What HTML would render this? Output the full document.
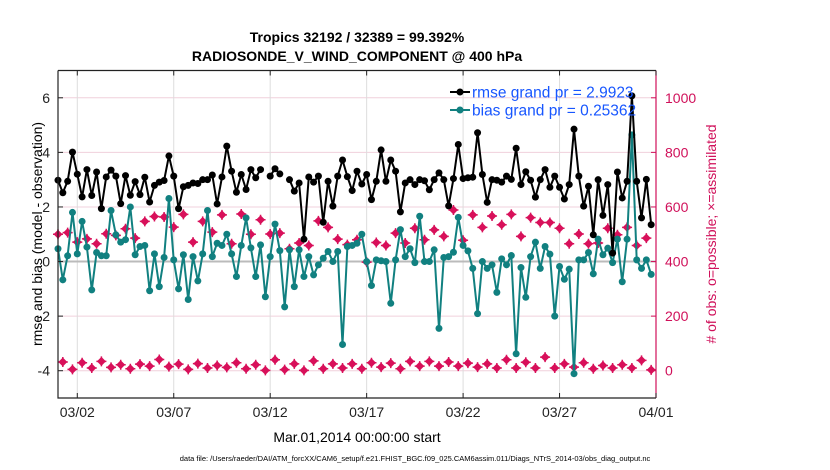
<!DOCTYPE html>
<html><head><meta charset="utf-8"><style>
body{margin:0;background:#fff;}
svg{display:block;font-family:"Liberation Sans",sans-serif;}
</style></head><body>
<svg id="chart" width="830" height="470" viewBox="0 0 830 470">
<text x="357" y="42" text-anchor="middle" font-size="14" font-weight="bold">Tropics 32192 / 32389 = 99.392%</text>
<text x="357" y="61" text-anchor="middle" font-size="14" font-weight="bold">RADIOSONDE_V_WIND_COMPONENT @ 400 hPa</text>
<g id="grid"></g>
<g id="marks"></g>
<g id="axes"></g>
<text transform="translate(42,234) rotate(-90)" text-anchor="middle" font-size="14">rmse and bias (model - observation)</text>
<text transform="translate(716,234) rotate(-90)" text-anchor="middle" font-size="14" fill="#d0105a"># of obs: o=possible; ×=assimilated</text>
<text x="357" y="442" text-anchor="middle" font-size="14">Mar.01,2014 00:00:00 start</text>
<text x="415" y="461" text-anchor="middle" font-size="7.5">data file: /Users/raeder/DAI/ATM_forcXX/CAM6_setup/f.e21.FHIST_BGC.f09_025.CAM6assim.011/Diags_NTrS_2014-03/obs_diag_output.nc</text>
<g id="legend">
<line x1="450" y1="92" x2="470" y2="92" stroke="#000" stroke-width="2"/>
<circle cx="460" cy="92" r="3.5" fill="#000"/>
<text x="472" y="97.5" font-size="15.5" fill="#1756ff">rmse grand pr = 2.9923</text>
<line x1="450" y1="110" x2="470" y2="110" stroke="#118080" stroke-width="2"/>
<circle cx="460" cy="110" r="3.5" fill="#118080"/>
<text x="472" y="115.5" font-size="15.5" fill="#1756ff">bias grand pr = 0.25362</text>
</g>
</svg>
<script>
const rmse = [2.98,2.52,2.94,4.01,3.2,2.37,3.37,2.42,3.28,1.94,3.1,3.35,3.13,2.12,3.15,2.43,2.93,2.45,3.09,2.18,2.79,2.91,2.97,3.87,3.13,1.94,2.74,2.79,2.88,2.86,3.0,3.0,3.17,2.11,3.1,4.23,3.31,2.54,3.19,2.64,
3.37,3.07,3.37,null,3.13,3.4,3.21,null,3.0,2.58,2.88,0.82,3.1,2.91,3.13,1.44,2.94,2.03,3.13,3.72,3.11,2.6,3.31,2.84,3.19,2.27,2.94,4.09,2.94,3.72,3.31,1.82,2.88,3.0,2.82,3.0,2.96,2.63,3.0,3.25,3.0,2.04,
3.04,4.29,3.04,3.07,3.09,4.72,3.19,2.17,3.0,2.98,2.91,3.13,3.01,4.15,2.82,3.29,2.98,2.36,3.0,3.37,2.72,3.13,2.72,2.29,2.82,4.85,3.13,2.03,2.76,0.98,3.0,1.69,2.82,0.31,3.28,2.33,2.94,6.07,2.94,1.6,3.01,1.35];
const bias = [0.47,-0.67,0.21,1.8,0.28,1.47,0.53,-1.04,0.33,0.21,0.21,1.87,0.98,0.71,0.8,2.0,0.25,0.55,0.59,-1.07,0.28,-0.92,0.15,2.31,0.06,-1.0,0.25,-1.39,0.18,-0.71,0.28,1.87,0.18,0.67,0.59,1.0,0.28,-0.55,0.59,1.6,
0.5,-0.55,0.61,-1.29,0.18,1.37,0.4,-1.66,0.43,-0.92,0.43,-0.55,0.18,-0.49,-0.12,0.12,0.37,0,0.37,-3.04,0.55,0.59,0.67,1.0,0,-0.88,0.06,0.03,0,-1.53,0.06,1.17,0.18,0.47,-0.04,1.66,0,0,0.43,-2.45,0.15,0.18,
0.34,1.62,0.59,0.39,-0.25,-1.91,0,-0.25,-0.12,-1.13,0.1,-0.12,0.22,-3.38,-0.22,-1.31,0.18,0.71,-0.25,0.55,0.27,-2.0,-0.18,-0.65,-0.28,-4.11,0.06,0.06,0.33,-0.45,0.82,0.25,0.49,-0.04,0.82,-0.74,0.82,4.64,0.06,-0.25,0.06,-0.47];
const obsCount = [500,32,506,5,471,29,483,10,465,34,502,12,496,22,520,7,486,24,547,17,565,41,563,15,526,24,573,5,471,26,547,10,508,19,571,12,465,29,574,7,
500,22,553,1,501,40,504,4,447,25,468,1,459,36,549,7,525,25,482,10,462,25,480,7,398,29,470,13,459,28,504,7,468,34,522,17,480,34,516,17,492,32,
589,17,478,28,571,13,525,25,567,10,535,40,573,10,492,31,561,10,543,50,543,10,522,25,465,13,501,29,465,7,468,19,522,10,498,22,525,10,459,38,486,3];
const xTickLabels = ["03/02","03/07","03/12","03/17","03/22","03/27","04/01"];
const xTickDays = [1,6,11,16,21,26,31];
const leftTicks = [-4,-2,0,2,4,6];
const rightTicks = [0,200,400,600,800,1000];

const L=58,R=656,T=70.5,B=398,NDAYS=31,STEP=0.25;
const xs=d=>L+(d/NDAYS)*(R-L);
const yL=v=>B-(v+5)/12*(B-T);
const yR=c=>B-(c+100)/1200*(B-T);
const NS="http://www.w3.org/2000/svg";
function mk(tag,attrs,parent){const e=document.createElementNS(NS,tag);for(const k in attrs)e.setAttribute(k,attrs[k]);parent.appendChild(e);return e;}
const grid=document.getElementById('grid'),marks=document.getElementById('marks'),axes=document.getElementById('axes');

leftTicks.forEach(v=>{
  if(v===0) return;
  const g=mk('line',{x1:L,x2:R,y1:yL(v),y2:yL(v),stroke:'#f0d0dc','stroke-width':1},grid);
  
  
});
xTickDays.forEach(d=>{
  const g=mk('line',{x1:xs(d),x2:xs(d),y1:T,y2:B,stroke:'#dddddd','stroke-width':1},grid);
  
  
});
const zl=mk('line',{x1:L,x2:R,y1:yL(0),y2:yL(0),stroke:'#bbbbbb','stroke-width':2},grid);



// obs markers
obsCount.forEach((c,i)=>{
  const x=xs(i*STEP),y=yR(c);
  const g=mk('g',{},marks);
  
  
  mk('path',{d:`M${x-4.5},${y}L${x},${y-4.5}L${x+4.5},${y}L${x},${y+4.5}Z`,fill:'#d8105a'},g);
  mk('path',{d:`M${x-5},${y}H${x+5}M${x},${y-5}V${y+5}`,stroke:'#d8105a','stroke-width':1.5},g);
});

function series(vals,color,name){
  let d='',pen=false;
  vals.forEach((v,i)=>{
    if(v===null){pen=false;return;}
    d+=(pen?'L':'M')+xs(i*STEP).toFixed(1)+','+yL(v).toFixed(1);pen=true;
  });
  const p=mk('path',{d:d,fill:'none',stroke:color,'stroke-width':2,'stroke-linejoin':'round'},marks);
  
  
  vals.forEach((v,i)=>{
    if(v===null) return;
    const c=mk('circle',{cx:xs(i*STEP),cy:yL(v),r:3.5,fill:color},marks);
    
    
  });
}
series(bias,'#118080','bias');
series(rmse,'#000000','rmse');

// axes
const frame=mk('path',{d:`M${L},${T}H${R}M${L},${T}V${B}H${R}`,fill:'none',stroke:'#222','stroke-width':1.2},axes);


const ra=mk('line',{x1:R,x2:R,y1:T,y2:B,stroke:'#d0105a','stroke-width':1.2},axes);


leftTicks.forEach(v=>{
  mk('line',{x1:L,x2:L+5,y1:yL(v),y2:yL(v),stroke:'#222'},axes);
  const t=mk('text',{x:L-8,y:yL(v)+5,'text-anchor':'end','font-size':14,fill:'#222'},axes);
  t.textContent=String(v);
  
  
});
rightTicks.forEach(c=>{
  mk('line',{x1:R-5,x2:R,y1:yR(c),y2:yR(c),stroke:'#d0105a'},axes);
  const t=mk('text',{x:R+9,y:yR(c)+5,'font-size':14,fill:'#d0105a'},axes);
  t.textContent=String(c);
  
  
});
xTickDays.forEach((d,i)=>{
  mk('line',{x1:xs(d),x2:xs(d),y1:B,y2:B-5,stroke:'#222'},axes);
  mk('line',{x1:xs(d),x2:xs(d),y1:T,y2:T+5,stroke:'#222'},axes);
  const t=mk('text',{x:xs(d),y:B+19,'text-anchor':'middle','font-size':14,fill:'#222'},axes);
  t.textContent=xTickLabels[i];
  
  
});
</script>
</body></html>
